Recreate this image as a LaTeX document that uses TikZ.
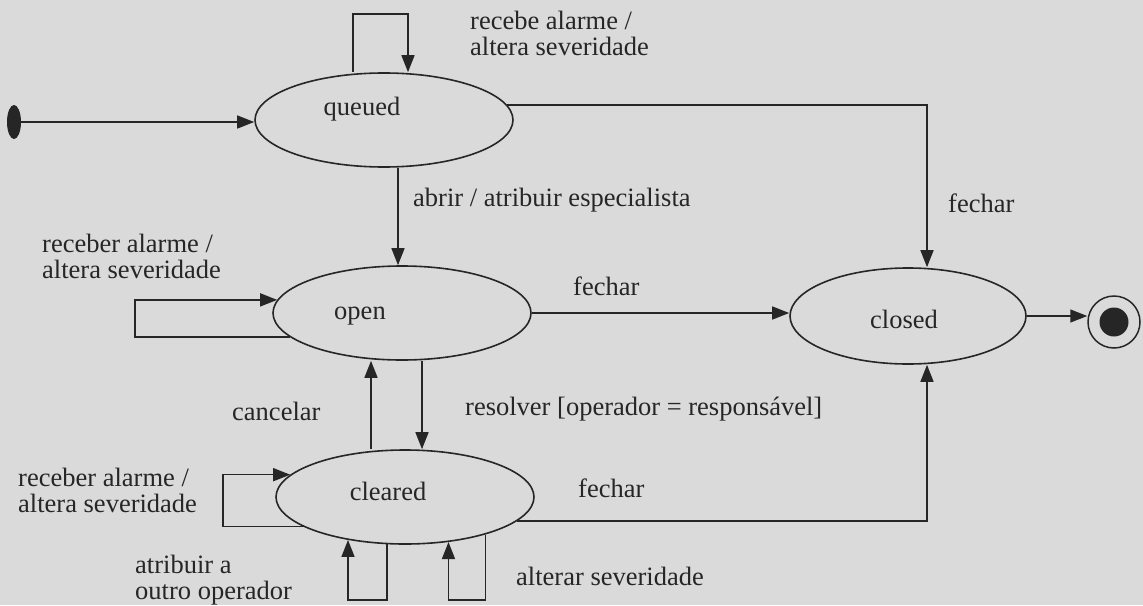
\documentclass[tikz,border=0pt]{standalone}
\usepackage{fontspec}
\setmainfont{Liberation Serif}
\usetikzlibrary{arrows.meta,shapes.geometric}
\definecolor{paper}{HTML}{DADADA}
\definecolor{ink}{HTML}{262626}
\begin{document}
\begin{tikzpicture}[x=1pt,y=-1pt,
  state/.style={ellipse, draw=ink, line width=1.6pt, minimum width=258pt,
                minimum height=94pt, inner sep=0pt},
  statetext/.style={font=\fontsize{26.5}{26}\selectfont, text=ink, inner sep=0pt},
  lbl/.style={anchor=west, align=left, inner sep=0pt, text=ink,
              font=\fontsize{26.5}{26}\selectfont},
  trans/.style={draw=ink, line width=1.5pt, -{Triangle[length=17pt,width=13pt]}}]
\useasboundingbox[fill=paper] (0,0) rectangle (1143,605);

% states
\node[state] (queued)  at (384,120) {};
\node[state] (open)    at (402,313) {};
\node[state] (cleared) at (405,497) {};
\node[state, minimum width=236pt, minimum height=96pt] (closed) at (908,316) {};
\node[statetext] (queued-t)  at (362,109) {queued};
\node[statetext] (open-t)    at (360,316) {open};
\node[statetext] (cleared-t) at (388,491) {cleared};
\node[statetext] (closed-t)  at (904,319) {closed};

% pseudo-states
\node[ellipse, fill=ink, minimum width=14pt, minimum height=34pt, inner sep=0pt] (init) at (14,122) {};
\node[circle, draw=ink, line width=1.5pt, minimum size=52pt, inner sep=0pt] (final) at (1114,322) {};
\node[circle, fill=ink, minimum size=29pt, inner sep=0pt] (final-dot) at (final.center) {};

% helper coordinates for loops
\coordinate (oloopL) at (135,0);
\coordinate (cloopL) at (223,0);
\coordinate (bot) at (0,600);
\coordinate (qtop) at (0,14);

% transitions
\draw[trans] (init.east) -- (init.east -| queued.west);
\draw[trans] ([xshift=-31pt]queued.north) -- ([xshift=-31pt]queued.north |- qtop)
   -- ([xshift=24pt]queued.north |- qtop) -- ([xshift=24pt]queued.north);
\draw[trans] (queued.7.5) -| ([xshift=19pt]closed.north);
\draw[trans] ([xshift=14pt]queued.south) -- ([xshift=14pt]queued.south |- open.north);
\draw[trans] (open.192) -- (open.192 -| oloopL) -- (open.174 -| oloopL) -- (open.174);
\draw[trans] (open.east) -- (open.east -| closed.west);
\draw[trans] (closed.east) -- (closed.east -| final.west);
\draw[trans] ([xshift=-34pt]cleared.north) -- ([xshift=-34pt]cleared.north |- open.south);
\draw[trans] ([xshift=20pt]open.south) -- ([xshift=20pt]open.south |- cleared.north);
\draw[trans] (cleared.196.4) -- (cleared.196.4 -| cloopL) -- (cleared.169.3 -| cloopL) -- (cleared.169.3);
\draw[trans] (cleared.249.2) -- (cleared.249.2 |- bot) -- (cleared.217.8 |- bot) -- (cleared.217.8);
\draw[trans] (cleared.335.9) -- (cleared.335.9 |- bot) -- (cleared.314.95 |- bot) -- (cleared.314.95);
\draw[trans] (cleared.348.7) -| ([xshift=19pt]closed.south);

% labels
\node[lbl] (qloop-t)   at (470,33)  {recebe alarme /\\altera severidade};
\node[lbl] (qc-t)      at (948,203) {fechar};
\node[lbl] (qo-t)      at (413,200) {abrir / atribuir especialista};
\node[lbl] (oloop-t)   at (42,256)  {receber alarme /\\altera severidade};
\node[lbl] (oc-t)      at (573,286) {fechar};
\node[lbl] (cancel-t)  at (232,411) {cancelar};
\node[lbl] (resolve-t) at (465,409) {resolver [operador = responsável]};
\node[lbl] (cloop-t)   at (18,490)  {receber alarme /\\altera severidade};
\node[lbl] (cc-t)      at (578,488) {fechar};
\node[lbl] (assign-t)  at (135,580) {atribuir a\\outro operador};
\node[lbl] (sev-t)     at (516,576) {alterar severidade};
\end{tikzpicture}
\end{document}
